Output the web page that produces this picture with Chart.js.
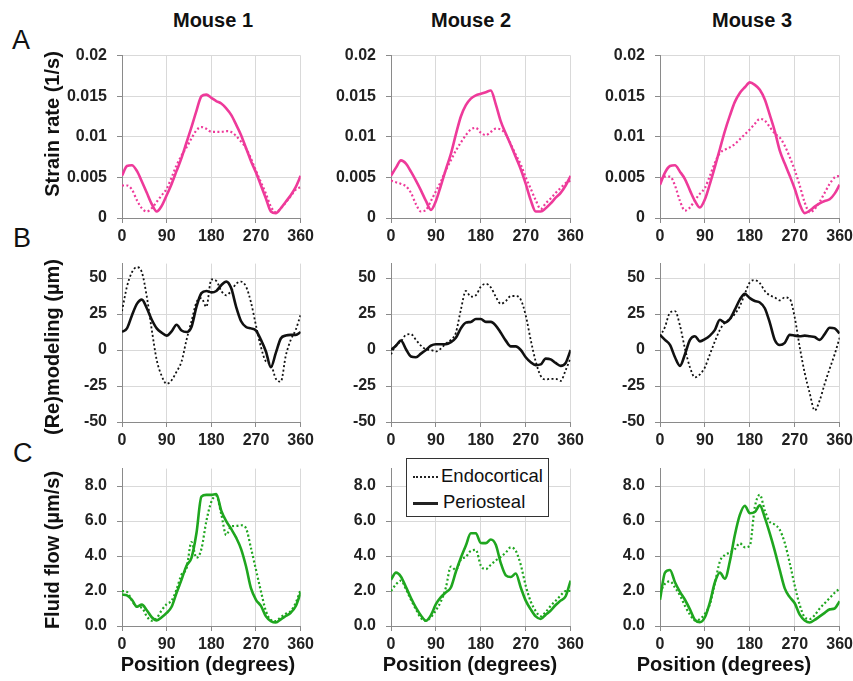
<!DOCTYPE html>
<html>
<head>
<meta charset="utf-8">
<script src="https://cdn.jsdelivr.net/npm/chart.js@4.4.1/dist/chart.umd.min.js"></script>
<style>
  body { margin: 0; background: #fff; width: 853px; height: 681px; position: relative; overflow: hidden;
         font-family: "Liberation Sans", Arial, sans-serif; }
  canvas { position: absolute; }
  .t { position: absolute; white-space: nowrap; font-weight: bold; font-size: 20px; line-height: 20px; color: #111; z-index: 2; }
  .ctr { transform: translateX(-50%); }
  .yt { transform: translate(-50%, -50%) rotate(-90deg); }
  .letter { position: absolute; font-size: 27px; line-height: 27px; color: #111; z-index: 2; }
  .legend { position: absolute; left: 406px; top: 458px; width: 141px; height: 57px; border: 1.5px solid #333;
            background: #fff; z-index: 3; font-size: 18.5px; color: #111; }
  .legend .row { position: absolute; left: 0; height: 22px; line-height: 22px; }
  .legend .smp { position: absolute; left: 6px; width: 25px; top: 11px; }
  .legend .txt { position: absolute; left: 34px; top: 0; white-space: nowrap; }
</style>
</head>
<body>
<div class="t ctr" style="left:213px;top:10px">Mouse 1</div>
<div class="t ctr" style="left:471px;top:10px">Mouse 2</div>
<div class="t ctr" style="left:752px;top:10px">Mouse 3</div>

<div class="letter" style="left:12px;top:27px">A</div>
<div class="letter" style="left:13px;top:225px">B</div>
<div class="letter" style="left:13px;top:440px">C</div>

<div class="t yt" style="left:52px;top:124px">Strain rate (1/s)</div>
<div class="t yt" style="left:52px;top:347px">(Re)modeling (µm)</div>
<div class="t yt" style="left:52px;top:550px">Fluid flow (µm/s)</div>

<div class="t ctr" style="left:208px;top:654px">Position (degrees)</div>
<div class="t ctr" style="left:470px;top:654px">Position (degrees)</div>
<div class="t ctr" style="left:724px;top:654px">Position (degrees)</div>

<div class="legend">
  <div class="row" style="top:6px;width:141px">
    <div class="smp" style="border-top:2px dotted #222"></div>
    <div class="txt">Endocortical</div>
  </div>
  <div class="row" style="top:32px;width:141px">
    <div class="smp" style="border-top:3px solid #222"></div>
    <div class="txt" style="left:36px">Periosteal</div>
  </div>
</div>

<script>
// angular position around the bone section (degrees)
const positions = [0,10,20,30,40,50,60,70,80,90,100,110,120,130,140,150,160,170,180,
                   190,200,210,220,230,240,250,260,270,280,290,300,310,320,330,340,350,360];
const xTickValues = [0, 90, 180, 270, 360];

// A: strain rate (1/s)
const strainTicks = [0, 0.005, 0.01, 0.015, 0.02];
const strain1Endo = [0.0040,0.0040,0.0035,0.0022,0.0012,0.0008,0.0012,0.0020,0.0028,0.0036,0.0050,0.0065,0.0077,0.0087,0.0098,0.0108,0.0112,0.0110,0.0106,
                     0.0106,0.0106,0.0107,0.0106,0.0101,0.0094,0.0086,0.0073,0.0058,0.0044,0.0030,0.0014,0.0007,0.0012,0.0019,0.0027,0.0035,0.0038];
const strain1Peri = [0.0052,0.0064,0.0065,0.0058,0.0045,0.0031,0.0017,0.0008,0.0015,0.0028,0.0042,0.0058,0.0074,0.0093,0.0112,0.0132,0.0150,0.0152,0.0148,
                     0.0144,0.0141,0.0135,0.0127,0.0115,0.0102,0.0086,0.0070,0.0056,0.0040,0.0024,0.0008,0.0006,0.0012,0.0020,0.0028,0.0038,0.0052];
const strain2Endo = [0.0046,0.0044,0.0042,0.0039,0.0031,0.0017,0.0008,0.0010,0.0021,0.0033,0.0045,0.0059,0.0071,0.0083,0.0093,0.0102,0.0109,0.0111,0.0105,
                     0.0102,0.0106,0.0110,0.0109,0.0103,0.0091,0.0078,0.0066,0.0050,0.0036,0.0022,0.0011,0.0018,0.0024,0.0031,0.0037,0.0043,0.0046];
const strain2Peri = [0.0052,0.0062,0.0071,0.0067,0.0057,0.0046,0.0034,0.0021,0.0010,0.0021,0.0040,0.0060,0.0079,0.0103,0.0125,0.0139,0.0147,0.0151,0.0153,
                     0.0155,0.0157,0.0140,0.0119,0.0104,0.0090,0.0075,0.0060,0.0042,0.0022,0.0008,0.0008,0.0012,0.0018,0.0025,0.0031,0.0040,0.0052];
const strain3Endo = [0.0048,0.0051,0.0051,0.0040,0.0021,0.0009,0.0013,0.0022,0.0030,0.0037,0.0052,0.0068,0.0080,0.0084,0.0087,0.0091,0.0097,0.0103,0.0109,
                     0.0116,0.0122,0.0120,0.0112,0.0104,0.0099,0.0089,0.0075,0.0059,0.0040,0.0019,0.0007,0.0011,0.0020,0.0031,0.0042,0.0050,0.0052];
const strain3Peri = [0.0041,0.0056,0.0064,0.0065,0.0057,0.0048,0.0034,0.0021,0.0013,0.0023,0.0042,0.0063,0.0085,0.0107,0.0126,0.0143,0.0154,0.0161,0.0167,
                     0.0164,0.0158,0.0146,0.0127,0.0107,0.0083,0.0067,0.0052,0.0036,0.0017,0.0006,0.0009,0.0014,0.0018,0.0021,0.0023,0.0030,0.0041];

// B: (re)modeling (µm)
const remodTicks = [-50, -25, 0, 25, 50];
const remod1Endo = [27,44,54,57.5,54,37,14,-7,-18,-23.5,-21,-15,-8,7,20,33,36,30,49,
                    48,41,38,41,46,47.5,44,33,17,2,-8,-10,-20,-22,-4,7,14,24.5];
const remod1Peri = [12.5,15,24,32,35,29,21,15,12,10,13,17.5,13.5,12.5,16,30,39.5,41,40,
                    41,45,47.5,43,30,20,16,15,13.5,7,-1,-12,-2,8,10,10.5,10.5,12.5];
const remod2Endo = [-3,3.5,6,10.5,11,7,3,0.5,0,-1,1,4.5,7,12,28,41,37,38,44,
                    46,43.5,37,32,34,37.5,37.5,35,24,7,-8,-18,-20.5,-20,-20,-21.5,-14,-5.5];
const remod2Peri = [0,3,6.5,0.5,-4.5,-5,-2.5,0,3,4,4,4,5.5,8.5,15,19,19.5,21.5,21.5,
                    19.5,19.5,17,12,6.5,2.5,2.5,0,-5,-8.5,-10.5,-10,-6,-6.5,-9,-11,-9,0];
const remod3Endo = [9.5,16,26,27,17,1,-12,-19,-17,-12,-3,6,14,19,21.5,25,30.5,39,47,
                    48.5,46.5,41,38,36.5,34.5,36.5,35.5,22.5,2,-16,-30,-42,-35,-23.5,-13,-3,8.5];
const remod3Peri = [10.5,7,3.5,-5,-11,-3,7,9.5,6,7.5,10,14,21,19,21.5,28,35,39,36,
                    34,33,29,19,7,3.5,5,10.5,10,9.5,10,9.5,9,7,11,15.5,15,11.5];

// C: fluid flow (µm/s)
const flowTicks = [0, 2, 4, 6, 8];
const flow1Endo = [2.0,1.95,1.45,1.1,1.05,0.55,0.3,0.45,0.9,1.25,1.45,2.1,2.95,3.3,4.8,3.9,4.4,6.0,7.1,
                   7.45,6.4,5.2,5.7,5.72,5.76,5.58,4.44,3.21,1.98,0.85,0.34,0.28,0.5,0.7,0.85,1.32,2.08];
const flow1Peri = [1.8,1.75,1.5,1.1,1.22,0.9,0.5,0.32,0.5,0.75,1.1,1.9,2.65,3.45,3.9,5.3,7.4,7.5,7.5,
                   7.55,6.6,6.0,5.55,5.05,4.4,3.4,2.15,1.5,1.15,0.55,0.28,0.2,0.38,0.57,0.76,1.13,1.9];
const flow2Endo = [2.0,2.38,2.6,2.1,1.5,0.95,0.45,0.3,0.5,0.9,1.4,2.2,3.4,3.2,3.8,3.95,4.3,4.35,3.45,
                   3.25,3.5,3.75,3.95,4.2,4.5,4.3,3.5,2.3,1.4,0.85,0.55,0.8,1.15,1.45,1.75,2.0,2.0];
const flow2Peri = [2.65,3.05,2.82,2.22,1.6,1.05,0.6,0.3,0.62,1.25,1.65,1.92,2.2,3.1,3.9,4.6,5.3,5.3,4.75,
                   4.74,4.95,4.65,3.6,2.9,2.8,3.0,2.2,1.45,0.95,0.55,0.4,0.65,0.88,1.2,1.45,1.7,2.6];
const flow3Endo = [1.9,2.42,2.55,2.2,1.75,1.15,0.65,0.32,0.4,0.7,1.25,2.45,3.69,4.06,4.2,4.4,4.73,4.5,4.6,
                   6.8,7.5,6.6,5.95,5.8,5.5,4.75,3.6,2.3,1.2,0.5,0.4,0.62,1.0,1.3,1.6,1.9,2.14];
const flow3Peri = [1.5,3.05,3.2,2.5,1.95,1.5,0.95,0.35,0.22,0.5,1.35,2.5,3.05,2.7,3.7,5.2,6.35,6.88,6.45,
                   6.52,6.9,6.2,5.3,4.3,3.2,2.15,1.65,1.3,0.65,0.32,0.2,0.35,0.55,0.75,0.95,1.0,1.42];

const PINK = '#ee3a9a';
const GREEN = '#1fa61f';
const BLACK = '#111111';

// plot-area placement (px) of the 3x3 grid
const COLS = [{ x: 122, w: 179 }, { x: 391, w: 180 }, { x: 660, w: 180 }];
const ROWS = [{ y: 56, h: 163 }, { y: 264, h: 159 }, { y: 469, h: 158 }];
const YW = 70, XH = 32, PT = 12, PR = 16;

Chart.defaults.font.family = '"Liberation Sans", Arial, sans-serif';
Chart.defaults.font.size = 16;
Chart.defaults.font.weight = 'bold';
Chart.defaults.color = '#222';

function toPoints(vals) {
  return vals.map((v, i) => ({ x: positions[i], y: v }));
}

function makeConfig(row, endo, peri, color, yTicks, yMin, yMax, fmt) {
  const grid = { color: '#d9d9d9', lineWidth: 1, tickLength: 5, tickColor: '#8a8a8a' };
  const border = { color: '#8a8a8a', width: 1 };
  return {
    type: 'line',
    data: {
      datasets: [
        { label: 'Periosteal', data: toPoints(peri), borderColor: color, borderWidth: 2.6,
          pointRadius: 0, cubicInterpolationMode: 'monotone' },
        { label: 'Endocortical', data: toPoints(endo), borderColor: color, borderWidth: row === 1 ? 1.8 : 2.2,
          borderDash: [2, 2.4], pointRadius: 0, cubicInterpolationMode: 'monotone' }
      ]
    },
    options: {
      responsive: false,
      maintainAspectRatio: false,
      animation: false,
      layout: { padding: { top: PT, right: PR, left: 0, bottom: 0 } },
      plugins: { legend: { display: false }, tooltip: { enabled: false } },
      scales: {
        x: {
          type: 'linear', min: 0, max: 360,
          grid: grid, border: border,
          afterBuildTicks: s => { s.ticks = xTickValues.map(v => ({ value: v })); },
          afterFit: s => { s.height = XH; },
          ticks: { padding: 4, maxRotation: 0, autoSkip: false, color: '#222' }
        },
        y: {
          min: yMin, max: yMax,
          grid: grid, border: border,
          afterBuildTicks: s => { s.ticks = yTicks.map(v => ({ value: v })); },
          afterFit: s => { s.width = YW; },
          ticks: { padding: 10, color: '#222', callback: fmt }
        }
      }
    }
  };
}

function panel(row, col, endo, peri, color, yTicks, yMin, yMax, fmt) {
  const c = COLS[col], r = ROWS[row];
  const cv = document.createElement('canvas');
  let w = YW + c.w + PR, h = PT + r.h + XH;
  cv.width = w; cv.height = h;
  document.body.appendChild(cv);

  // first pass: find where the plot area lands, then resize so it has the wanted size
  let chart = new Chart(cv.getContext('2d'), makeConfig(row, endo, peri, color, yTicks, yMin, yMax, fmt));
  let a = chart.chartArea;
  const dw = c.w - (a.right - a.left), dh = r.h - (a.bottom - a.top);
  if (dw || dh) {
    chart.destroy();
    cv.width = w + dw; cv.height = h + dh;
    chart = new Chart(cv.getContext('2d'), makeConfig(row, endo, peri, color, yTicks, yMin, yMax, fmt));
    a = chart.chartArea;
  }
  cv.style.left = (c.x - a.left) + 'px';
  cv.style.top = (r.y - a.top) + 'px';
}

const fmtStrain = v => String(+v.toFixed(3));
const fmtRemod = v => String(v);
const fmtFlow = v => v.toFixed(1);

panel(0, 0, strain1Endo, strain1Peri, PINK, strainTicks, 0, 0.02, fmtStrain);
panel(0, 1, strain2Endo, strain2Peri, PINK, strainTicks, 0, 0.02, fmtStrain);
panel(0, 2, strain3Endo, strain3Peri, PINK, strainTicks, 0, 0.02, fmtStrain);
panel(1, 0, remod1Endo, remod1Peri, BLACK, remodTicks, -50, 60, fmtRemod);
panel(1, 1, remod2Endo, remod2Peri, BLACK, remodTicks, -50, 60, fmtRemod);
panel(1, 2, remod3Endo, remod3Peri, BLACK, remodTicks, -50, 60, fmtRemod);
panel(2, 0, flow1Endo, flow1Peri, GREEN, flowTicks, 0, 9, fmtFlow);
panel(2, 1, flow2Endo, flow2Peri, GREEN, flowTicks, 0, 9, fmtFlow);
panel(2, 2, flow3Endo, flow3Peri, GREEN, flowTicks, 0, 9, fmtFlow);
</script>
</body>
</html>
